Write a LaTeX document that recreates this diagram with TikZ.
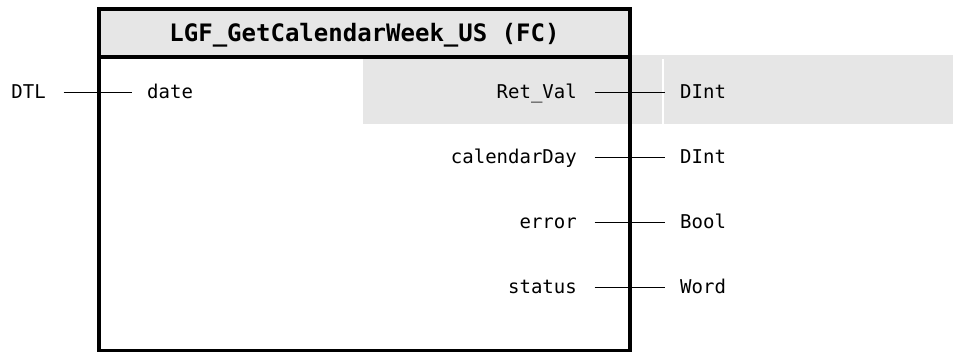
\documentclass[tikz,border=0pt]{standalone}
\usepackage{fontspec}
\setmonofont{DejaVu Sans Mono}
\definecolor{fillgray}{RGB}{230,230,230}
\begin{document}
\begin{tikzpicture}[x=1pt,y=-1pt,
  lbl/.style={font=\fontsize{19}{22}\selectfont\ttfamily, inner sep=0pt},
  wire/.style={line width=1pt, shorten <=17.5pt, shorten >=15.5pt},
  border/.style={line width=4pt}]
\useasboundingbox (0,0) rectangle (953,351);
% highlighted return-value row
\fill[fillgray] (363,55) rectangle (953,124);
\draw[white, line width=1.5pt] (663,59) -- (663,124);
% title band
\fill[fillgray] (99,9) rectangle (630,57);
\node[font=\fontsize{24}{28}\selectfont\ttfamily\bfseries, anchor=base, inner sep=0pt]
  (title) at (364.5,41) {LGF\_GetCalendarWeek\_US (FC)};
% block outline
\draw[border] (99,9) rectangle (630,351);
\draw[border] (99,57) -- (630,57);
% input pin (text baselines sit 6pt below the wire)
\node[lbl, anchor=base east] (dtl) at (46,98) {DTL};
\node[lbl, anchor=base west] (date) at (147,98) {date};
\draw[wire] ([yshift=6pt]dtl.base east) -- ([yshift=6pt]date.base west);
% output pins
\foreach \nm/\pin/\typ/\yy in {rv/Ret\_Val/DInt/92, cd/calendarDay/DInt/157, er/error/Bool/222, st/status/Word/287}{
  \node[lbl, anchor=base east] (\nm-pin) at (577,\yy+6) {\pin};
  \node[lbl, anchor=base west] (\nm-type) at (680,\yy+6) {\typ};
  \draw[wire] ([yshift=6pt]\nm-pin.base east) -- ([yshift=6pt]\nm-type.base west);
}
\end{tikzpicture}
\end{document}
